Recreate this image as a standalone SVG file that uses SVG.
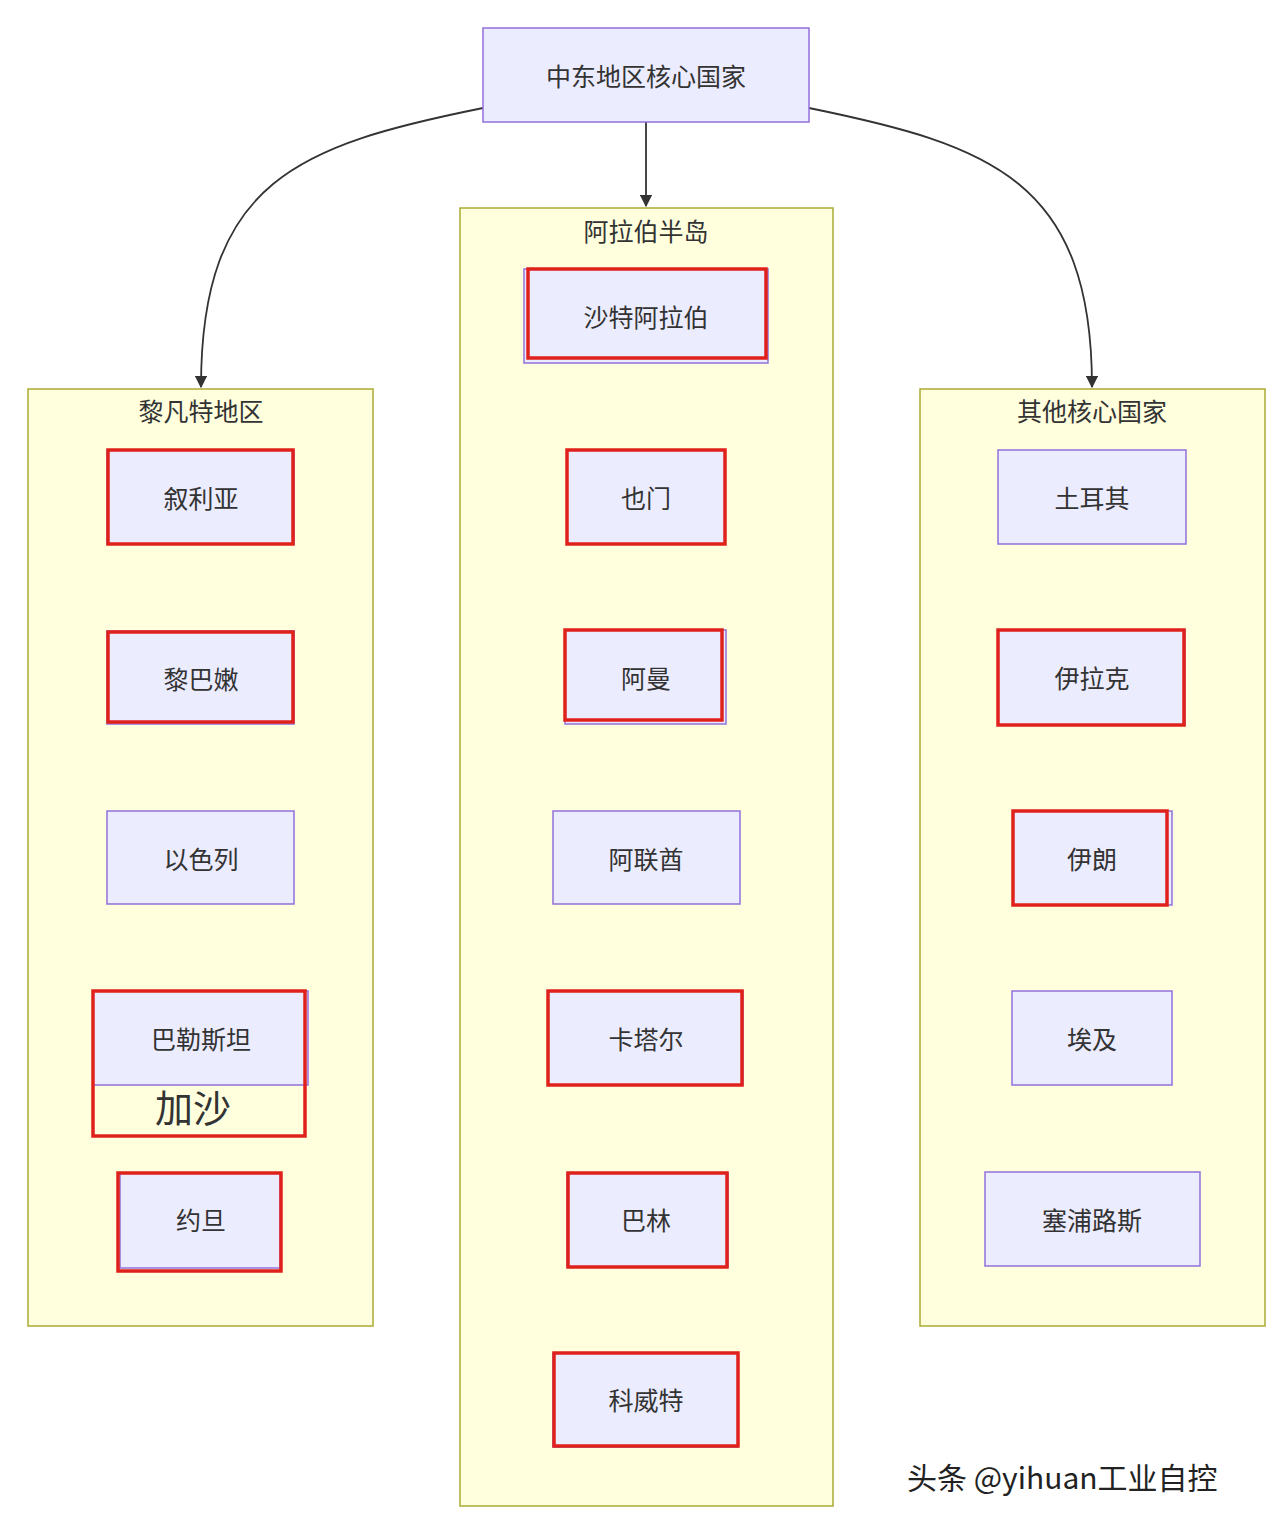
<svg xmlns="http://www.w3.org/2000/svg" width="1279" height="1521" viewBox="0 0 1279 1521">
<defs>
<style>
.n{fill:#ECECFF;stroke:#9370DB;stroke-width:1.5}
.c{fill:#FFFFDE;stroke:#AAAA33;stroke-width:1.5}
.r{fill:none;stroke:#E0201B;stroke-width:3.5}
.t{font-family:"Noto Sans CJK SC","Noto Sans",sans-serif;font-size:25px;fill:#333;text-anchor:middle;dominant-baseline:central}
.e{fill:none;stroke:#333;stroke-width:1.8}
</style>
<marker id="a" viewBox="0 0 10 10" refX="9" refY="5" markerWidth="7" markerHeight="7" orient="auto"><path d="M0,0L10,5L0,10z" fill="#333"/></marker>
</defs>
<rect width="1279" height="1521" fill="#fff"/>
<g id="clusters">
<rect class="c" x="28" y="389" width="345" height="937"/><text class="t" x="201" y="410">黎凡特地区</text>
<rect class="c" x="460" y="208" width="373" height="1298"/><text class="t" x="646" y="230">阿拉伯半岛</text>
<rect class="c" x="920" y="389" width="345" height="937"/><text class="t" x="1092" y="410">其他核心国家</text>
</g>
<g id="connectors">
<path class="e" d="M646,122 L646,206" marker-end="url(#a)"/>
<path class="e" d="M483,108 C300,145 201,180 201,387" marker-end="url(#a)"/>
<path class="e" d="M809,108 C990,145 1092,180 1092,387" marker-end="url(#a)"/>
</g>
<g id="top"><rect class="n" x="483" y="28" width="326" height="94"/><text class="t" x="646" y="75">中东地区核心国家</text></g>
<g id="syria"><rect class="n" x="107" y="450" width="187" height="94"/><text class="t" x="201" y="497">叙利亚</text><rect class="r" x="108" y="450" width="185" height="94"/></g>
<g id="lebanon"><rect class="n" x="107" y="631" width="187" height="93"/><text class="t" x="201" y="678">黎巴嫩</text><rect class="r" x="108" y="632" width="185" height="90"/></g>
<g id="israel"><rect class="n" x="107" y="811" width="187" height="93"/><text class="t" x="201" y="858">以色列</text></g>
<g id="palestine"><rect class="n" x="93" y="991" width="215" height="94"/><text class="t" x="201" y="1038">巴勒斯坦</text><rect class="r" x="93" y="991" width="212" height="145"/><text class="t" x="193" y="1105" style="font-size:38px">加沙</text></g>
<g id="jordan"><rect class="n" x="120" y="1173" width="160" height="95"/><text class="t" x="201" y="1219">约旦</text><rect class="r" x="118" y="1173" width="163" height="98"/></g>
<g id="saudi"><rect class="n" x="524" y="269" width="244" height="94"/><text class="t" x="646" y="316">沙特阿拉伯</text><rect class="r" x="528" y="269" width="238" height="89"/></g>
<g id="yemen"><rect class="n" x="567" y="450" width="158" height="94"/><text class="t" x="646" y="497">也门</text><rect class="r" x="567" y="450" width="158" height="94"/></g>
<g id="oman"><rect class="n" x="565" y="630" width="161" height="94"/><text class="t" x="646" y="677">阿曼</text><rect class="r" x="565" y="630" width="157" height="90"/></g>
<g id="uae"><rect class="n" x="553" y="811" width="187" height="93"/><text class="t" x="646" y="858">阿联酋</text></g>
<g id="qatar"><rect class="n" x="548" y="991" width="195" height="94"/><text class="t" x="646" y="1038">卡塔尔</text><rect class="r" x="548" y="991" width="194" height="94"/></g>
<g id="bahrain"><rect class="n" x="567" y="1173" width="161" height="94"/><text class="t" x="646" y="1219">巴林</text><rect class="r" x="568" y="1173" width="159" height="94"/></g>
<g id="kuwait"><rect class="n" x="553" y="1353" width="185" height="94"/><text class="t" x="646" y="1399">科威特</text><rect class="r" x="554" y="1353" width="184" height="93"/></g>
<g id="turkey"><rect class="n" x="998" y="450" width="188" height="94"/><text class="t" x="1092" y="497">土耳其</text></g>
<g id="iraq"><rect class="n" x="998" y="630" width="187" height="95"/><text class="t" x="1092" y="677">伊拉克</text><rect class="r" x="998" y="630" width="186" height="95"/></g>
<g id="iran"><rect class="n" x="1013" y="811" width="159" height="94"/><text class="t" x="1092" y="858">伊朗</text><rect class="r" x="1013" y="811" width="154" height="94"/></g>
<g id="egypt"><rect class="n" x="1012" y="991" width="160" height="94"/><text class="t" x="1092" y="1038">埃及</text></g>
<g id="cyprus"><rect class="n" x="985" y="1172" width="215" height="94"/><text class="t" x="1092" y="1219">塞浦路斯</text></g>
<text x="907" y="1476" style="font-family:'Noto Sans CJK SC','Noto Sans',sans-serif;font-size:30px;fill:#222;dominant-baseline:central">头条 @yihuan工业自控</text>
</svg>
